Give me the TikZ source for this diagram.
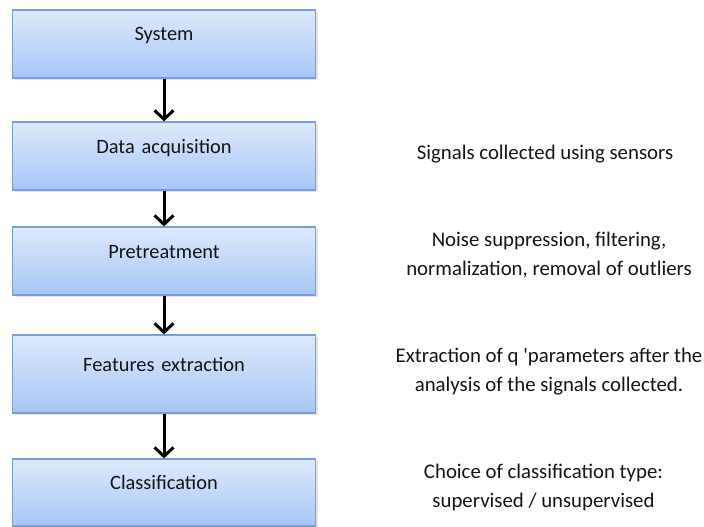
\documentclass[tikz,border=0pt]{standalone}
\usepackage{fontspec}
\setmainfont{Carlito}
\usepackage{tikz}
\usetikzlibrary{arrows.meta,shadows}
\definecolor{cieloA}{RGB}{222,233,251}
\definecolor{cieloB}{RGB}{166,198,247}
\definecolor{borde}{RGB}{122,158,212}
\definecolor{tinta}{RGB}{20,20,20}

\begin{document}
\begin{tikzpicture}[
        x=1pt,y=-1pt,
        etapa/.style={draw=borde,line width=1.2pt,top color=cieloA,bottom color=cieloB,
                      drop shadow={opacity=0.22,shadow xshift=2pt,shadow yshift=-2pt},
                      font=\fontsize{20.4}{24}\selectfont,text=tinta,
                      minimum width=303pt,inner sep=0pt,text width=303pt,align=center,
                      text height=31pt,text depth=37pt},
        nota/.style={font=\fontsize{20.8}{29}\selectfont,text=tinta,align=center},
        flecha/.style={-{Straight Barb[length=9pt,width=19pt]},line width=3pt,black}]
        \useasboundingbox (0,0) rectangle (704,527);
        \node[etapa] (sys) at (164,44) {System};
        \node[etapa] (acq) at (164,156) {Data acquisition};
        \node[etapa] (pre) at (164,261) {Pretreatment};
        \node[etapa,text height=36pt,text depth=42pt] (fea) at (164,374) {Features extraction};
        \node[etapa,text height=30pt,text depth=37pt] (cls) at (164,492.5) {Classification};
        \node[nota] (nacq) at (545,154) {Signals collected using sensors};
        \node[nota] (npre) at (549,255.5) {Noise suppression, filtering,\\normalization, removal of outliers};
        \node[nota] (nfea) at (549,371.5) {Extraction of q \textquotesingle parameters after the\\analysis of the signals collected.};
        \node[nota] (ncls) at (543.5,487.5) {Choice of classification type:\\supervised / unsupervised};
        \draw[flecha] (sys)--(acq);
        \draw[flecha] (acq)--(pre);
        \draw[flecha] (pre)--(fea);
        \draw[flecha] (fea)--(cls);
      \end{tikzpicture}
\end{document}
